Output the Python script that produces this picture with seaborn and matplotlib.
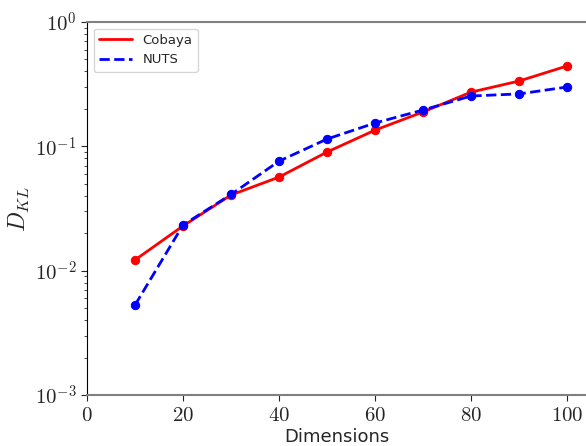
import numpy as np
import pandas as pd
import matplotlib
matplotlib.use("Agg")
import matplotlib.pyplot as plt
import seaborn as sns
from matplotlib.ticker import FuncFormatter, LogLocator, NullFormatter

# data
dims = [10, 20, 30, 40, 50, 60, 70, 80, 90, 100]
cobaya_kl = [0.0122, 0.0229, 0.0406, 0.0566, 0.090, 0.135, 0.189, 0.273, 0.335, 0.443]
nuts_kl = [0.00529, 0.0233, 0.041, 0.076, 0.1145, 0.154, 0.196, 0.254, 0.264, 0.300]

sns.set_style("ticks")
plt.rcParams['mathtext.fontset'] = 'cm'
plt.rcParams['font.family'] = ['DejaVu Sans']

fig = plt.figure(figsize=(5.86, 4.46), dpi=100)
ax = fig.add_axes([0.1485, 0.1143, 0.852, 0.8364])

df = pd.DataFrame({"dim": dims, "Cobaya": cobaya_kl, "NUTS": nuts_kl})

sns.lineplot(data=df, x="dim", y="Cobaya", ax=ax, color="red", lw=2,
             marker="o", markersize=6, markeredgecolor="red", label="Cobaya")
sns.lineplot(data=df, x="dim", y="NUTS", ax=ax, color="blue", lw=2,
             linestyle="--", marker="o", markersize=6, markeredgecolor="blue",
             label="NUTS")

ax.set_yscale("log")
ax.set_ylim(1e-3, 1e0)
ax.set_xlim(0, 104)
ax.set_xticks([0, 20, 40, 60, 80, 100])
ax.xaxis.set_major_formatter(FuncFormatter(lambda v, p: r"$%d$" % v))
ax.yaxis.set_major_locator(LogLocator(base=10))
ax.yaxis.set_minor_locator(LogLocator(base=10, subs=np.arange(2, 10)))
ax.yaxis.set_major_formatter(FuncFormatter(lambda v, p: r"$10^{%d}$" % round(np.log10(v))))
ax.yaxis.set_minor_formatter(NullFormatter())
ax.tick_params(axis="both", which="major", labelsize=15, length=4, direction="out")
ax.tick_params(axis="y", which="minor", length=2)

ax.set_xlabel("Dimensions", fontsize=13, labelpad=2)
ax.set_ylabel(r"$D_{KL}$", fontsize=17, labelpad=2)

for s in ["top", "bottom"]:
    ax.spines[s].set_color("0.5")
    ax.spines[s].set_linewidth(1.5)
ax.spines["left"].set_color("black")
ax.spines["right"].set_visible(False)

leg = ax.legend(loc="upper left", fontsize=9.5, frameon=True, fancybox=True,
                framealpha=0.8, handlelength=2.5)
for h in leg.legend_handles:
    h.set_marker("")

fig.savefig("out.png", dpi=100)
